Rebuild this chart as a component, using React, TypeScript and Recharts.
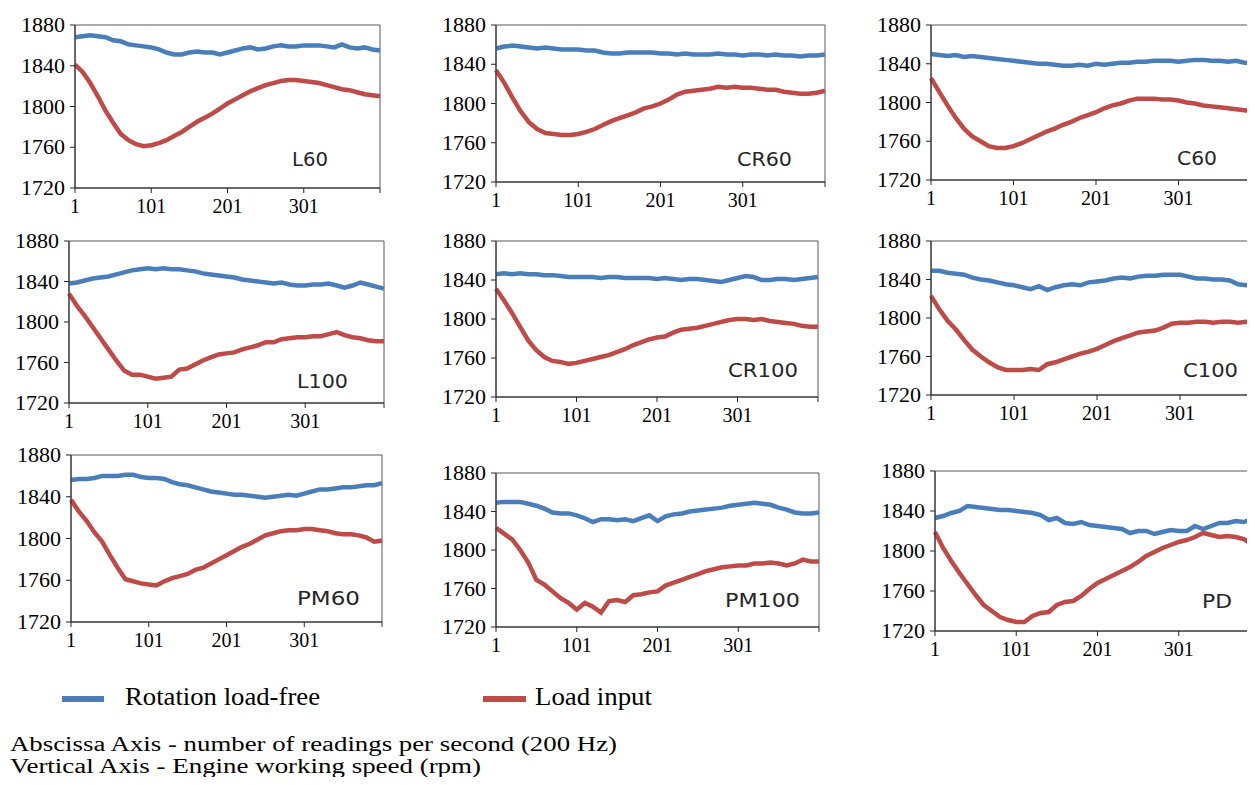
import { LineChart, Line, XAxis, YAxis, ReferenceArea, Label } from 'recharts';

// reading index (200 Hz samples), one value every 10 readings
const readings = [
  1, 11, 21, 31, 41, 51, 61, 71, 81, 91, 101, 111, 121, 131, 141, 151, 161, 171, 181, 191, 201,
  211, 221, 231, 241, 251, 261, 271, 281, 291, 301, 311, 321, 331, 341, 351, 361, 371, 381, 391, 401,
];
const xTicks = [1, 101, 201, 301, 401];
const yTicks = [1720, 1760, 1800, 1840, 1880];

const l60Free = [
  1868, 1869, 1870, 1869, 1868, 1865, 1864, 1861, 1860, 1859, 1858, 1856, 1853, 1851, 1851, 1853, 1854,
  1853, 1853, 1851, 1853, 1855, 1857, 1858, 1856, 1857, 1859, 1860, 1859, 1859, 1860, 1860, 1860, 1859,
  1858, 1861, 1858, 1857, 1858, 1856, 1855,
];
const l60Load = [
  1841, 1834, 1823, 1810, 1796, 1784, 1773, 1767, 1763, 1761, 1762, 1764, 1767, 1771, 1775, 1780, 1785,
  1789, 1793, 1798, 1803, 1807, 1811, 1815, 1818, 1821, 1823, 1825, 1826, 1826, 1825, 1824, 1823, 1821,
  1819, 1817, 1816, 1814, 1812, 1811, 1810,
];
const cr60Free = [
  1856, 1858, 1859, 1858, 1857, 1856, 1857, 1856, 1855, 1855, 1855, 1854, 1854, 1852, 1851, 1851, 1852,
  1852, 1852, 1852, 1851, 1851, 1850, 1851, 1850, 1850, 1850, 1851, 1850, 1850, 1849, 1850, 1850, 1849,
  1850, 1849, 1849, 1848, 1849, 1849, 1850,
];
const cr60Load = [
  1834, 1821, 1806, 1792, 1781, 1774, 1770, 1769, 1768, 1768, 1769, 1771, 1774, 1778, 1782, 1785, 1788,
  1791, 1795, 1797, 1800, 1804, 1809, 1812, 1813, 1814, 1815, 1817, 1816, 1817, 1816, 1816, 1815, 1814,
  1814, 1812, 1811, 1810, 1810, 1811, 1813,
];
const c60Free = [
  1850, 1849, 1848, 1849, 1847, 1848, 1847, 1846, 1845, 1844, 1843, 1842, 1841, 1840, 1840, 1839, 1838,
  1838, 1839, 1838, 1840, 1839, 1840, 1841, 1841, 1842, 1842, 1843, 1843, 1843, 1842, 1843, 1844, 1844,
  1843, 1843, 1842, 1843, 1841, 1841, 1840,
];
const c60Load = [
  1825, 1811, 1797, 1784, 1773, 1765, 1760, 1755, 1753, 1753, 1755, 1758, 1762, 1766, 1770, 1773, 1777,
  1780, 1784, 1787, 1790, 1794, 1797, 1799, 1802, 1804, 1804, 1804, 1803, 1803, 1802, 1800, 1799, 1797,
  1796, 1795, 1794, 1793, 1792, 1791, 1790,
];
const l100Free = [
  1838, 1839, 1841, 1843, 1844, 1845, 1847, 1849, 1851, 1852, 1853, 1852, 1853, 1852, 1852, 1851, 1850,
  1848, 1847, 1846, 1845, 1844, 1842, 1841, 1840, 1839, 1838, 1839, 1837, 1836, 1836, 1837, 1837, 1838,
  1836, 1834, 1836, 1839, 1837, 1835, 1833,
];
const l100Load = [
  1828, 1816, 1806, 1795, 1784, 1773, 1762, 1752, 1748, 1748, 1746, 1744, 1745, 1746, 1753, 1754, 1758,
  1762, 1765, 1768, 1769, 1770, 1773, 1775, 1777, 1780, 1780, 1783, 1784, 1785, 1785, 1786, 1786, 1788,
  1790, 1787, 1785, 1784, 1782, 1781, 1781,
];
const cr100Free = [
  1846, 1847, 1846, 1847, 1846, 1846, 1845, 1845, 1844, 1843, 1843, 1843, 1843, 1842, 1843, 1843, 1842,
  1842, 1842, 1842, 1841, 1842, 1841, 1840, 1841, 1841, 1840, 1839, 1838, 1840, 1842, 1844, 1843, 1840,
  1840, 1841, 1841, 1840, 1841, 1842, 1843,
];
const cr100Load = [
  1831, 1819, 1806, 1792, 1778, 1768, 1761, 1757, 1756, 1754, 1755, 1757, 1759, 1761, 1763, 1766, 1769,
  1773, 1776, 1779, 1781, 1782, 1786, 1789, 1790, 1791, 1793, 1795, 1797, 1799, 1800, 1800, 1799, 1800,
  1798, 1797, 1796, 1795, 1793, 1792, 1792,
];
const c100Free = [
  1849, 1849, 1847, 1846, 1845, 1842, 1840, 1839, 1837, 1835, 1834, 1832, 1830, 1833, 1829, 1832, 1834,
  1835, 1834, 1837, 1838, 1839, 1841, 1842, 1841, 1843, 1844, 1844, 1845, 1845, 1845, 1843, 1841, 1841,
  1840, 1840, 1839, 1835, 1834, 1837, 1836,
];
const c100Load = [
  1823, 1809, 1797, 1788, 1777, 1767, 1760, 1754, 1749, 1746, 1746, 1746, 1747, 1746, 1752, 1754, 1757,
  1760, 1763, 1765, 1768, 1772, 1776, 1779, 1782, 1785, 1786, 1787, 1790, 1794, 1795, 1795, 1796, 1796,
  1795, 1796, 1796, 1795, 1796, 1795, 1795,
];
const pm60Free = [
  1856, 1857, 1857, 1858, 1860, 1860, 1860, 1861, 1861, 1859, 1858, 1858, 1857, 1854, 1852, 1851, 1849,
  1847, 1845, 1844, 1843, 1842, 1842, 1841, 1840, 1839, 1840, 1841, 1842, 1841, 1843, 1845, 1847, 1847,
  1848, 1849, 1849, 1850, 1851, 1851, 1853,
];
const pm60Load = [
  1837, 1826, 1817, 1806, 1797, 1784, 1772, 1761, 1759, 1757, 1756, 1755, 1759, 1762, 1764, 1766, 1770,
  1772, 1776, 1780, 1784, 1788, 1792, 1795, 1799, 1803, 1805, 1807, 1808, 1808, 1809, 1809, 1808, 1807,
  1805, 1804, 1804, 1803, 1801, 1797, 1798,
];
const pm100Free = [
  1849, 1850, 1850, 1850, 1848, 1846, 1843, 1839, 1838, 1838, 1836, 1833, 1829, 1832, 1832, 1831, 1832,
  1830, 1833, 1836, 1830, 1835, 1837, 1838, 1840, 1841, 1842, 1843, 1844, 1846, 1847, 1848, 1849, 1848,
  1847, 1844, 1842, 1839, 1838, 1838, 1839,
];
const pm100Load = [
  1823, 1817, 1811, 1800, 1787, 1769, 1764, 1757, 1750, 1745, 1738, 1745, 1741, 1735, 1747, 1748, 1746,
  1753, 1754, 1756, 1757, 1763, 1766, 1769, 1772, 1775, 1778, 1780, 1782, 1783, 1784, 1784, 1786, 1786,
  1787, 1786, 1784, 1786, 1790, 1788, 1788,
];
const pdFree = [
  1833, 1835, 1838, 1840, 1845, 1844, 1843, 1842, 1841, 1841, 1840, 1839, 1838, 1836, 1831, 1833, 1828,
  1827, 1829, 1826, 1825, 1824, 1823, 1822, 1818, 1820, 1820, 1817, 1819, 1821, 1820, 1820, 1825, 1822,
  1825, 1828, 1828, 1830, 1829, 1832, 1833,
];
const pdLoad = [
  1819, 1803, 1790, 1778, 1767, 1756, 1746, 1740, 1734, 1731, 1729, 1729, 1735, 1738, 1739, 1746, 1749,
  1750, 1755, 1762, 1768, 1772, 1776, 1780, 1784, 1789, 1795, 1799, 1803, 1806, 1809, 1811, 1814, 1818,
  1816, 1814, 1815, 1814, 1812, 1807, 1805,
];

const BLUE = '#4A7EBB';
const RED = '#BE4B48';
const SERIF = 'Liberation Serif';

// plot box [left, top, right, bottom] and label [left, baseline, width], page pixels
const panels = [
  { name: 'L60', free: l60Free, load: l60Load, box: [75, 25, 380, 188], label: [292, 166, 36] },
  { name: 'CR60', free: cr60Free, load: cr60Load, box: [496, 25, 825, 182], label: [737, 166, 55] },
  { name: 'C60', free: c60Free, load: c60Load, box: [931, 25, 1261, 180], label: [1177, 165, 40] },
  { name: 'L100', free: l100Free, load: l100Load, box: [69, 241, 384, 403], label: [297, 388, 51] },
  { name: 'CR100', free: cr100Free, load: cr100Load, box: [496, 241, 818, 397], label: [728, 377, 70] },
  { name: 'C100', free: c100Free, load: c100Load, box: [931, 241, 1263, 395], label: [1183, 377, 55] },
  { name: 'PM60', free: pm60Free, load: pm60Load, box: [71, 455, 382, 622], label: [297, 605, 63] },
  { name: 'PM100', free: pm100Free, load: pm100Load, box: [496, 473, 819, 627], label: [725, 607, 75] },
  { name: 'PD', free: pdFree, load: pdLoad, box: [935, 471, 1260, 631], label: [1202, 608, 30] },
];

const PAD_L = 70;
const PAD_T = 12;
const PAD_R = 4;
const PAD_B = 40;

const XTick = (props: any) => {
  const { x, y, payload } = props;
  if (payload.value === 401) return <g />;
  return (
    <text x={x} y={y} dy="0.71em" textAnchor="middle" fontSize={20} fontFamily={SERIF} fill="#000">
      {payload.value}
    </text>
  );
};

const YTick = (props: any) => {
  const { x, y, payload } = props;
  return (
    <text
      x={x - 44}
      y={y}
      dy="0.355em"
      textAnchor="start"
      fontSize={20}
      fontFamily={SERIF}
      fill="#000"
      textLength={44}
      lengthAdjust="spacingAndGlyphs"
    >
      {payload.value}
    </text>
  );
};

const Panel = ({ p }: { p: (typeof panels)[number] }) => {
  const [x0, y0, x1, y1] = p.box;
  const [lx, ly, lw] = p.label;
  const data = readings.map((r, i) => ({ reading: r, free: p.free[i], load: p.load[i] }));

  return (
    <div style={{ position: 'absolute', left: x0 - PAD_L, top: y0 - PAD_T }}>
      <LineChart
        width={x1 - x0 + PAD_L + PAD_R}
        height={y1 - y0 + PAD_T + PAD_B}
        data={data}
        margin={{ top: PAD_T, right: PAD_R, left: 0, bottom: 0 }}
      >
        <XAxis
          dataKey="reading"
          type="number"
          domain={[1, 401]}
          ticks={xTicks}
          interval={0}
          height={PAD_B}
          tickSize={5}
          tickMargin={6}
          stroke="#262626"
          tick={<XTick />}
        />
        <YAxis
          type="number"
          domain={[1720, 1880]}
          ticks={yTicks}
          interval={0}
          width={PAD_L}
          tickSize={5}
          tickMargin={5}
          stroke="#262626"
          tick={<YTick />}
        />
        <ReferenceArea x1={1} x2={401} y1={1720} y2={1880} fill="none" stroke="#595959" strokeWidth={1}>
          <Label
            content={(props: any) => {
              const vb = props.viewBox || { x: 0, y: 0 };
              return (
                <text
                  x={vb.x + (lx - x0)}
                  y={vb.y + (ly - y0)}
                  textLength={lw}
                  lengthAdjust="spacingAndGlyphs"
                  fontSize={19}
                  fontFamily="DejaVu Sans"
                  fill="#262626"
                >
                  {p.name}
                </text>
              );
            }}
          />
        </ReferenceArea>
        <Line dataKey="free" type="linear" stroke={BLUE} strokeWidth={4.5} dot={false} isAnimationActive={false} />
        <Line dataKey="load" type="linear" stroke={RED} strokeWidth={4.5} dot={false} isAnimationActive={false} />
      </LineChart>
    </div>
  );
};

const Notes = () => (
  <svg width={1255} height={110} style={{ position: 'absolute', left: 0, top: 675 }}>
    <rect x={62} y={21} width={42} height={6} fill={BLUE} />
    <text x={125} y={30} fontSize={25} fontFamily={SERIF} fill="#000" textLength={195} lengthAdjust="spacingAndGlyphs">
      Rotation load-free
    </text>
    <rect x={483} y={21} width={43} height={6} fill={RED} />
    <text x={535} y={30} fontSize={25} fontFamily={SERIF} fill="#000" textLength={117} lengthAdjust="spacingAndGlyphs">
      Load input
    </text>
    <text x={10} y={76} fontSize={20} fontFamily={SERIF} fill="#000" textLength={607} lengthAdjust="spacingAndGlyphs">
      Abscissa Axis - number of readings per second (200 Hz)
    </text>
    <text x={10} y={98} fontSize={20} fontFamily={SERIF} fill="#000" textLength={471} lengthAdjust="spacingAndGlyphs">
      Vertical Axis - Engine working speed (rpm)
    </text>
  </svg>
);

const App = () => {
  return (
    <div
      style={{
        position: 'relative',
        width: 1255,
        height: 785,
        margin: -8,
        overflow: 'hidden',
        background: '#fff',
      }}
    >
      {panels.map((p) => (
        <Panel key={p.name} p={p} />
      ))}
      <Notes />
    </div>
  );
};

export default App;
